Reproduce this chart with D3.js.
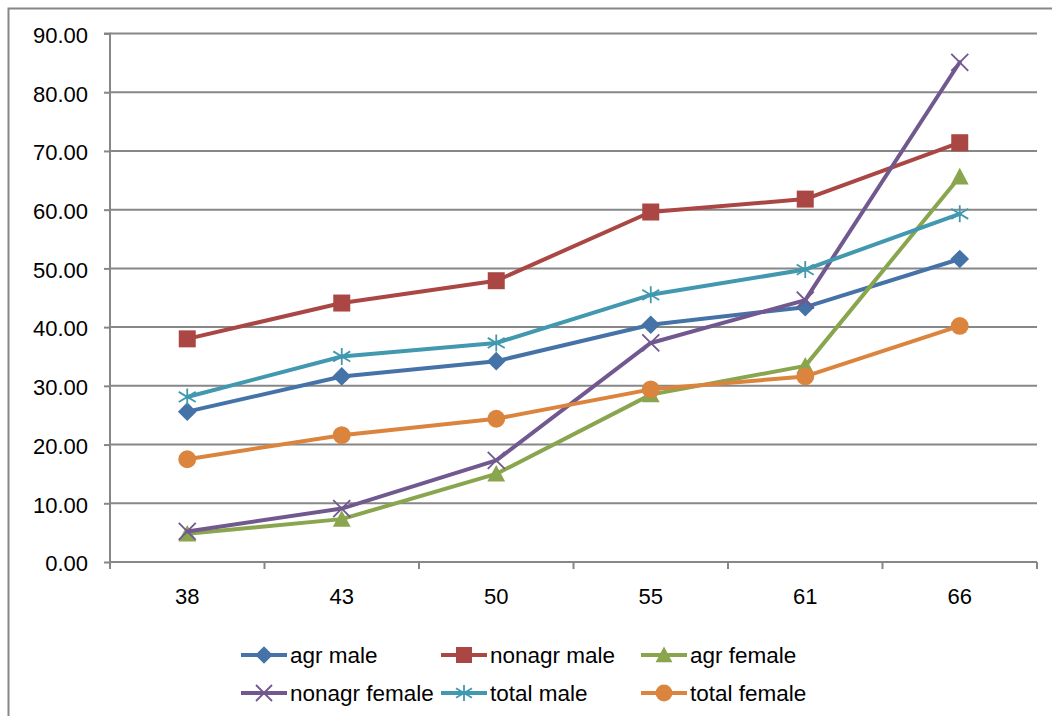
<!DOCTYPE html>
<html>
<head>
<meta charset="utf-8">
<script src="https://cdn.jsdelivr.net/npm/d3@7"></script>
<style>
  html, body { margin: 0; padding: 0; background: #fff; }
  svg text { font-family: "Liberation Sans", Arial, sans-serif; fill: #000; }
</style>
</head>
<body>
<svg id="chart" width="1052" height="716"></svg>
<script>
const categories = ["38", "43", "50", "55", "61", "66"];
const yTicks = [0, 10, 20, 30, 40, 50, 60, 70, 80, 90];
const seriesNames = ["agr male", "nonagr male", "agr female", "nonagr female", "total male", "total female"];
const agrMale = [25.6, 31.6, 34.2, 40.4, 43.4, 51.6];
const nonagrMale = [38.0, 44.1, 47.9, 59.6, 61.8, 71.4];
const agrFemale = [4.8, 7.3, 15.0, 28.5, 33.4, 65.6];
const nonagrFemale = [5.2, 9.1, 17.3, 37.3, 44.6, 85.1];
const totalMale = [28.1, 35.0, 37.3, 45.5, 49.8, 59.3];
const totalFemale = [17.5, 21.6, 24.4, 29.4, 31.6, 40.2];
const seriesValues = [agrMale, nonagrMale, agrFemale, nonagrFemale, totalMale, totalFemale];
const colors = ["#4572A7", "#AA4643", "#89A54E", "#71588F", "#4198AF", "#DB843D"];
const markers = ["diamond", "square", "triangle", "x", "star", "circle"];

const svg = d3.select("#chart");
const gridColor = "#878787";

// outer chart border
svg.append("rect")
  .attr("x", 8.5).attr("y", 8.5)
  .attr("width", 1100).attr("height", 800)
  .attr("fill", "none").attr("stroke", gridColor).attr("stroke-width", 2);

const plot = { left: 110, right: 1037, top: 33.5, bottom: 562 };

const x = d3.scaleBand().domain(categories).range([plot.left, plot.right]).padding(0);
const y = d3.scaleLinear().domain([0, 90]).range([plot.bottom, plot.top]);

// gridlines
svg.append("g").selectAll("line").data(yTicks.filter(d => d > 0)).join("line")
  .attr("x1", plot.left).attr("x2", plot.right)
  .attr("y1", d => y(d)).attr("y2", d => y(d))
  .attr("stroke", gridColor).attr("stroke-width", 2);

// y axis
const yAxis = d3.axisLeft(y).tickValues(yTicks).tickFormat(d3.format(".2f")).tickSize(6).tickPadding(16);
const gy = svg.append("g").attr("transform", `translate(${plot.left},0)`).call(yAxis);
gy.select(".domain").attr("stroke", gridColor).attr("stroke-width", 2).attr("d", `M-6,${plot.top}H0V${plot.bottom}`);
gy.selectAll(".tick line").attr("stroke", gridColor).attr("stroke-width", 2);
gy.selectAll(".tick text").attr("font-size", 22).attr("font-family", "Liberation Sans, Arial, sans-serif").attr("fill", "#000").attr("dy", "0.4em");

// x axis
const xAxis = d3.axisBottom(x).tickSize(0).tickPadding(26);
const gx = svg.append("g").attr("transform", `translate(0,${plot.bottom})`).call(xAxis);
gx.select(".domain").attr("stroke", gridColor).attr("stroke-width", 2).attr("d", `M${plot.left},0H${plot.right}`);
gx.selectAll(".tick text").attr("font-size", 22).attr("font-family", "Liberation Sans, Arial, sans-serif").attr("fill", "#000");
// x tick marks at band boundaries
const boundaries = categories.map(c => x(c)).concat([x(categories[categories.length - 1]) + x.bandwidth()]);
gx.append("g").selectAll("line").data(boundaries).join("line")
  .attr("x1", d => d).attr("x2", d => d).attr("y1", 0).attr("y2", 7)
  .attr("stroke", gridColor).attr("stroke-width", 2);

function markerPath(type, s) {
  const h = s / 2;
  switch (type) {
    case "diamond": return `M0,${-h * 1.1}L${h * 1.1},0L0,${h * 1.1}L${-h * 1.1},0Z`;
    case "square": return `M${-h},${-h}H${h}V${h}H${-h}Z`;
    case "triangle": return `M0,${-h * 1.05}L${h * 1.05},${h * 0.9}L${-h * 1.05},${h * 0.9}Z`;
    case "circle": return d3.symbol(d3.symbolCircle, Math.PI * (h * 1.05) ** 2)();
    case "x": return `M${-h},${-h}L${h},${h}M${-h},${h}L${h},${-h}`;
    case "star": return `M${-h},${-h * 0.6}L${h},${h * 0.6}M${-h},${h * 0.6}L${h},${-h * 0.6}M0,${-h}V${h}`;
  }
}
function drawMarker(g, type, color, s) {
  const filled = !(type === "x" || type === "star");
  g.append("path").attr("d", markerPath(type, s))
    .attr("fill", filled ? color : "none")
    .attr("stroke", color)
    .attr("stroke-width", filled ? 0 : 1.8);
}

const line = d3.line().x((d, i) => x(categories[i]) + x.bandwidth() / 2).y(d => y(d));

seriesValues.forEach((vals, si) => {
  const g = svg.append("g");
  g.append("path").datum(vals).attr("d", line)
    .attr("fill", "none").attr("stroke", colors[si]).attr("stroke-width", 4)
    .attr("stroke-linejoin", "round").attr("stroke-linecap", "round");
  vals.forEach((v, i) => {
    const mg = g.append("g").attr("transform", `translate(${x(categories[i]) + x.bandwidth() / 2},${y(v)})`);
    drawMarker(mg, markers[si], colors[si], 17);
  });
});

// legend
const legendCols = [241, 441, 641];
const legendRows = [655, 693];
seriesNames.forEach((name, si) => {
  const cx = legendCols[si % 3], cy = legendRows[Math.floor(si / 3)];
  const g = svg.append("g").attr("transform", `translate(${cx},${cy})`);
  g.append("line").attr("x1", 0).attr("x2", 46).attr("y1", 0).attr("y2", 0)
    .attr("stroke", colors[si]).attr("stroke-width", 4);
  const mg = g.append("g").attr("transform", "translate(23,0)");
  drawMarker(mg, markers[si], colors[si], 16);
  g.append("text").attr("x", 49).attr("y", 0).attr("dy", "0.36em")
    .attr("font-size", 22.5).text(name);
});
</script>
</body>
</html>
